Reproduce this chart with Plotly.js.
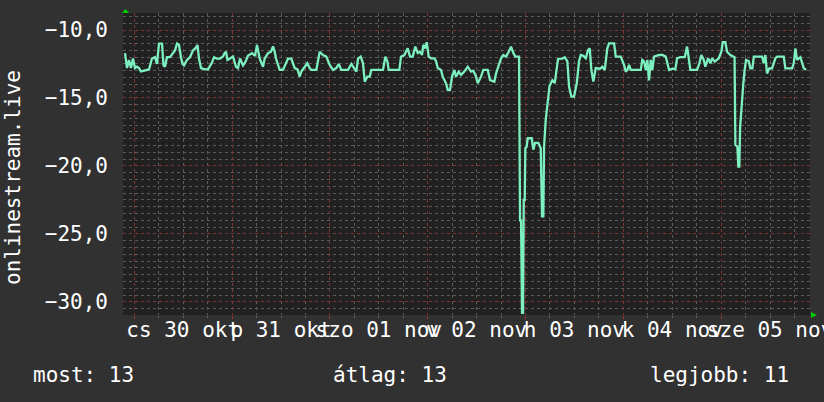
<!DOCTYPE html>
<html>
<head>
<meta charset="utf-8">
<script src="https://cdn.plot.ly/plotly-3.0.1.min.js"></script>
<style>
html,body{margin:0;padding:0;background:#313131;overflow:hidden;}
#chart{width:824px;height:402px;}
</style>
</head>
<body>
<div id="chart"></div>
<script>
// hours since 2025-10-30 00:00
const hours = [
-2.28,-1.79,-1.30,-0.81,-0.32,0.17,0.66,1.15,1.64,2.63,3.61,4.34,5.08,5.57,6.06,6.80,7.17,7.53,8.02,8.76,
9.50,9.99,10.48,10.97,11.46,11.83,12.20,12.93,13.67,14.40,15.14,15.51,15.88,16.37,17.35,18.09,19.07,19.56,20.29,21.03,
21.77,22.14,22.50,22.87,23.48,24.22,24.96,25.45,25.94,26.68,27.17,27.90,28.88,29.62,30.11,
30.77,31.58,32.00,32.81,33.55,34.04,34.45,34.77,35.68,36.49,37.72,38.53,39.36,40.05,40.59,40.98,41.82,42.45,43.04,43.44,
44.66,45.50,46.31,47.12,47.95,48.76,49.57,50.16,50.80,52.44,53.25,53.91,54.48,54.90,55.56,56.12,56.54,57.18,57.77,58.16,
61.03,61.60,62.09,62.43,65.03,
65.45,66.26,67.09,67.66,68.32,68.96,69.55,70.11,70.60,70.92,71.41,71.76,72.25,72.81,73.62,74.04,74.45,75.26,75.68,76.49,
76.91,77.47,77.96,78.53,78.95,79.61,80.17,80.98,81.82,82.63,83.19,83.85,84.27,85.08,85.64,86.72,87.29,88.34,88.76,89.42,
89.99,90.55,91.21,91.88,92.44,93.01,93.50,94.41,
94.65,94.90,95.14,95.39,95.56,95.80,95.95,96.25,96.54,97.52,97.91,98.33,99.14,99.73,100.05,100.37,100.54,100.96,101.35,101.60,
101.89,102.58,103.17,103.66,103.98,105.03,105.62,106.26,106.68,107.24,107.90,108.57,109.13,109.55,110.18,110.77,111.34,111.75,112.15,112.64,
113.23,114.28,114.85,115.44,115.68,116.07,116.49,117.72,118.14,119.36,120.17,120.59,120.98,121.40,121.82,124.27,124.66,125.08,125.50,125.89,
126.31,126.72,127.12,127.53,128.76,129.57,130.41,131.22,132.03,132.76,133.18,133.99,135.07,135.63,136.05,136.44,138.09,138.65,139.14,139.73,
140.12,140.79,141.35,141.77,142.43,143.41,144.05,144.39,145.03,145.45,146.26,146.85,147.29,147.49,147.98,148.22,148.47,148.64,149.06,149.45,
149.74,150.11,150.78,151.17,151.66,152.01,154.04,154.46,154.85,155.26,155.83,156.49,157.30,157.72,159.36,159.76,161.40,161.82,162.21,162.63,
163.44,164.27,164.84
];
const values = [
-11.7,-12.8,-12.2,-12.8,-12.1,-12.8,-12.7,-12.8,-13.05,-13.0,-12.9,-12.1,-12.0,-12.5,-11.0,-11.0,-12.6,-12.7,-12.0,-12.0,
-11.7,-11.5,-11.0,-11.1,-12.0,-12.5,-12.6,-12.2,-12.0,-11.5,-11.3,-11.1,-12.1,-12.8,-12.9,-12.9,-12.4,-12.0,-12.1,-12.1,
-11.95,-11.7,-11.6,-12.2,-12.1,-11.95,-12.7,-12.8,-12.1,-12.6,-12.4,-11.9,-11.7,-11.9,-11.1,
-12.1,-12.7,-12.1,-11.7,-11.6,-11.2,-11.6,-12.1,-12.94,-12.94,-12.1,-12.1,-12.8,-12.9,-13.43,-13.06,-12.7,-12.45,-12.8,-12.94,
-12.94,-11.6,-11.84,-11.96,-12.57,-12.94,-12.8,-12.5,-12.94,-12.94,-12.5,-12.8,-13.06,-12.1,-11.96,-12.45,-13.8,-13.43,-13.43,-12.94,
-12.94,-11.96,-12.3,-12.94,-12.94,
-11.96,-11.84,-11.35,-11.96,-11.96,-11.22,-11.7,-11.6,-11.84,-11.1,-11.35,-10.9,-11.96,-12.08,-12.08,-12.3,-12.8,-12.94,-13.43,-13.92,
-14.4,-14.4,-13.43,-12.94,-13.43,-13.06,-13.3,-13.06,-12.7,-13.06,-13.0,-13.43,-13.92,-13.43,-12.94,-12.94,-13.68,-13.8,-13.2,-12.57,
-12.08,-11.84,-11.96,-11.6,-11.22,-11.7,-11.96,-11.96,
-24.0,-24.0,-30.8,-30.8,-22.5,-22.5,-18.7,-18.6,-17.96,-17.96,-18.8,-18.3,-18.3,-18.7,-23.7,-23.7,-18.6,-16.6,-15.5,-14.4,
-14.1,-13.7,-13.9,-12.8,-12.13,-12.1,-12.0,-12.3,-14.17,-14.9,-14.9,-13.92,-12.3,-11.84,-11.9,-12.08,-11.47,-11.35,-12.94,-13.8,
-12.8,-12.85,-12.7,-12.94,-12.45,-11.35,-10.98,-10.98,-11.96,-11.96,-12.57,-13.06,-12.94,-12.57,-12.94,-12.94,-12.2,-12.3,-12.94,-12.2,
-13.7,-12.2,-12.94,-11.96,-11.84,-11.84,-11.96,-12.94,-12.85,-12.9,-12.08,-12.0,-12.0,-11.22,-12.08,-12.94,-12.94,-12.45,-11.84,-12.2,
-12.7,-12.08,-12.45,-12.08,-12.33,-12.08,-11.6,-10.9,-10.9,-11.6,-11.84,-11.96,-12.0,-18.46,-18.58,-20.05,-20.05,-17.2,-15.27,-13.9,
-13.0,-12.2,-12.3,-12.82,-12.82,-11.96,-11.96,-12.45,-11.84,-13.2,-12.82,-12.82,-12.08,-11.96,-11.96,-12.82,-12.82,-12.45,-11.35,-12.2,
-12.0,-12.8,-12.94
];
const dayLabels = ["cs 30 okt","p 31 okt","szo 01 nov","v 02 nov","h 03 nov","k 04 nov","sze 05 nov"];
const labelHours = [12,36,60,84,108,132,156];
const yTicks = [-10,-15,-20,-25,-30];
const yTitle = "onlinestream.live";
const statNames = ["most","átlag","legjobb"];
const statValues = [13,13,11];

const FONT = "DejaVu Sans Mono";
const XR = [-2.77, 165.8];
const YR = [-30.96, -8.75];
const red = "#7c3434";
const gray = "#5a5a5a";

const traces = [
  {x: hours, y: values, type: "scatter", mode: "lines",
   line: {color: "#7df0c0", width: 2.3}, hoverinfo: "skip", xaxis: "x", yaxis: "y"},
  {x: [labelHours[0]], y: [values[0]], type: "scatter", mode: "markers",
   marker: {opacity: 0}, hoverinfo: "skip", xaxis: "x2", yaxis: "y", showlegend: false}
];

const statX = [31, 331, 648].map(px => (px - 123) / 687);
const annotations = statNames.map((n, i) => ({
  text: n + ": " + statValues[i], xref: "paper", yref: "paper",
  x: statX[i], y: (315 - 375) / 302, xanchor: "left", yanchor: "middle",
  showarrow: false, font: {family: FONT, size: 21, color: "#ffffff"}
}));
annotations.push({
  text: yTitle, xref: "paper", yref: "paper", x: (13 - 123) / 687, y: (315 - 178) / 302,
  xanchor: "center", yanchor: "middle", textangle: -90, showarrow: false,
  font: {family: FONT, size: 21, color: "#ffffff"}
});

const layout = {
  width: 824, height: 402,
  margin: {l: 123, r: 14, t: 13, b: 87},
  paper_bgcolor: "#313131", plot_bgcolor: "#212121",
  separators: ", ",
  showlegend: false,
  font: {family: FONT, size: 21, color: "#ffffff"},
  xaxis: {
    range: XR, tickmode: "linear", tick0: 0, dtick: 24,
    showgrid: true, gridcolor: red, griddash: "dot", gridwidth: 1,
    showticklabels: false, ticks: "outside", ticklen: 3, tickcolor: "#a03030",
    minor: {tickmode: "linear", tick0: 0, dtick: 6, showgrid: true, gridcolor: gray, griddash: "dot", ticks: "outside", ticklen: 2, tickcolor: "#666"},
    zeroline: false, showline: false, fixedrange: true, automargin: false
  },
  xaxis2: {
    range: XR, overlaying: "x", anchor: "y", side: "bottom",
    tickmode: "array", tickvals: labelHours, ticktext: dayLabels,
    showgrid: false, zeroline: false, showline: false, ticks: "", tickangle: 0,
    ticklabeloverflow: "allow",
    tickfont: {family: FONT, size: 21, color: "#ffffff"}, automargin: false
  },
  yaxis: {
    range: YR, tickmode: "array", tickvals: yTicks, tickformat: ".1f",
    showgrid: true, gridcolor: red, griddash: "dot", gridwidth: 1,
    minor: {tickmode: "linear", tick0: -30, dtick: 0.5, showgrid: true, gridcolor: gray, griddash: "dot"},
    ticks: "", ticklabelstandoff: 14,
    tickfont: {family: FONT, size: 21, color: "#ffffff"},
    zeroline: false, showline: false, fixedrange: true, automargin: false
  },
  annotations: annotations,
  shapes: [
    {type: "path", xref: "paper", yref: "paper", xsizemode: "pixel", ysizemode: "pixel",
     xanchor: 0, yanchor: 1, path: "M -1 0 L 6 0 L 2.5 4 Z", fillcolor: "#00cc00", line: {width: 0}},
    {type: "path", xref: "paper", yref: "paper", xsizemode: "pixel", ysizemode: "pixel",
     xanchor: 1, yanchor: 0, path: "M 1 -3 L 1 3 L 7 0 Z", fillcolor: "#00cc00", line: {width: 0}}
  ]
};

Plotly.newPlot("chart", traces, layout, {staticPlot: true, displayModeBar: false});
</script>
</body>
</html>
